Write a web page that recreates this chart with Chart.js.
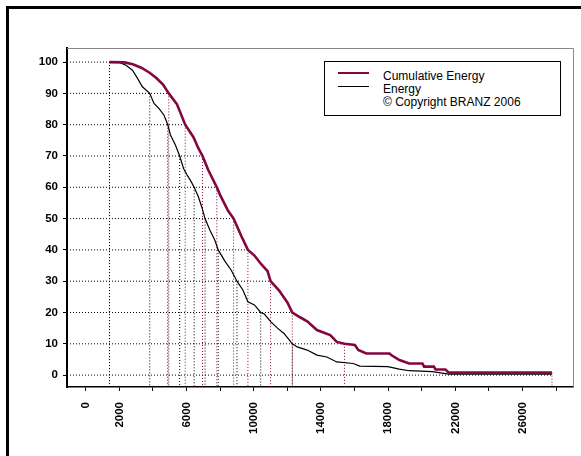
<!DOCTYPE html>
<html lang="en">
<head>
<meta charset="UTF-8">
<title>Energy</title>
<script src="https://cdn.jsdelivr.net/npm/chart.js/dist/chart.umd.min.js"></script>
<style>
  html, body { margin: 0; background: #fff; overflow: hidden; width: 581px; height: 456px; }
  .bar { position: absolute; background: #000; }
  #wrap { position: absolute; left: 0; top: 0; width: 581px; height: 456px; }
  #legend { position: absolute; left: 324px; top: 61px; width: 237px; height: 55px;
            border: 1px solid #000; background: #fff; box-sizing: border-box;
            font: 12px "Liberation Sans", Arial, sans-serif; color: #000; }
  #legend .sw { position: absolute; left: 13px; width: 31px; height: 0; }
  #legend .txt { position: absolute; left: 58px; top: 8px; line-height: 13px; }
</style>
</head>
<body>
<div class="bar" style="left:6px;top:6px;width:575px;height:3px"></div>
<div class="bar" style="left:6px;top:6px;width:3px;height:450px"></div>
<div id="wrap"><canvas id="chart"></canvas></div>
<div id="legend">
  <div class="sw" style="top:10px;border-top:2px solid #85053f"></div>
  <div class="sw" style="top:24px;border-top:1px solid #000"></div>
  <div class="txt">Cumulative Energy<br>Energy<br>&copy; Copyright BRANZ 2006</div>
</div>
<script>
// axis ranges and ticks
const X_MIN = -1118, X_MAX = 29060;
const Y_MIN = -3.8, Y_MAX = 104.5;
const xTicks = [0, 2000, 4000, 6000, 8000, 10000, 12000, 14000, 16000, 18000, 20000, 22000, 24000, 26000, 28000];
const xLabelled = [0, 2000, 6000, 10000, 14000, 18000, 22000, 26000];
const yTicks = [0, 10, 20, 30, 40, 50, 60, 70, 80, 90, 100];

// Energy curve (x = energy, y = %)
const energyX = [1412, 2000, 2390, 2780, 3080, 3370, 3806, 4060, 4350, 4650, 4882, 5040, 5335, 5588, 5820, 6020, 6220, 6453, 6700, 6900, 7100, 7390, 7690, 7882, 8280, 8660, 9000, 9350, 9650, 10040, 10412, 10630, 11020, 11410, 11800, 12000, 12294, 12590, 13180, 13760, 14350, 14940, 15920, 16310, 17980, 18660, 19250, 20630, 21610, 27750];
const energyY = [100, 99.9, 99, 97.4, 94.8, 92.1, 90, 86.8, 85.2, 83.1, 80, 76.7, 73.5, 70, 66, 64, 62.3, 60, 57, 53.8, 50, 46.3, 43, 40, 36.4, 33.5, 30, 27.2, 23.4, 22.4, 20, 19.5, 17, 15, 13.3, 12, 10, 9, 8, 6.4, 5.8, 4.2, 3.7, 2.9, 2.7, 1.9, 1.4, 1.1, 0.3, 0.3];

// Cumulative energy curve
const cumX = [1412, 2300, 2800, 3300, 3800, 4200, 4600, 4940, 5430, 5920, 6410, 6700, 6950, 7290, 7800, 8000, 8470, 8800, 9250, 9650, 10040, 10430, 10820, 11000, 11510, 12000, 12294, 12780, 13180, 13760, 14550, 14940, 15400, 16020, 16220, 16700, 18080, 18180, 18670, 19250, 20040, 20140, 20720, 20820, 21410, 21610, 27750];
const cumY = [100, 99.9, 99.3, 98.2, 96.6, 94.9, 92.8, 90, 86.5, 80, 76, 72.5, 70, 65.5, 60, 57.5, 52.5, 50, 44.5, 40, 38.2, 35.5, 33.2, 30, 27, 23.2, 20, 18.4, 17.2, 14.4, 12.8, 10.6, 10, 9.6, 8, 6.9, 6.9, 6.4, 4.8, 3.7, 3.7, 2.7, 2.7, 1.8, 1.8, 0.8, 0.8];

// drop-line levels and where each curve crosses them
const dropLevels = [100, 90, 80, 70, 60, 50, 40, 30, 20, 10, 0];
const energyCross = [1412, 3806, 4882, 5588, 6453, 7100, 7882, 9000, 10412, 12294, null];
const cumCross = [1412, 4940, 5920, 6950, 7800, 8800, 9650, 11000, 12294, 15400, 27750];
const cumEndY = 0.8;

const RED = '#85053f';

const toPts = (xs, ys) => xs.map((x, i) => ({ x: x, y: ys[i] }));

const datasets = [
  { label: 'Cumulative Energy', data: toPts(cumX, cumY), borderColor: RED, borderWidth: 2.6, order: 0 },
  { label: 'Energy', data: toPts(energyX, energyY), borderColor: '#000', borderWidth: 1.2, order: 0 },
];

const dotted = (pts, color) => ({
  data: pts, borderColor: color, borderWidth: 1, borderDash: [1, 2], order: 2
});

dropLevels.forEach((lev, i) => {
  // horizontal line from the y axis to the outer curve
  datasets.push(dotted([{ x: X_MIN, y: lev }, { x: cumCross[i], y: lev }], '#000'));
  // vertical drops to the x axis
  if (energyCross[i] !== null) {
    datasets.push(dotted([{ x: energyCross[i], y: lev }, { x: energyCross[i], y: Y_MIN }], '#000'));
  }
  const top = lev === 0 ? cumEndY : lev;
  datasets.push(dotted([{ x: cumCross[i], y: top }, { x: cumCross[i], y: Y_MIN }], RED));
});

const plotFrame = {
  id: 'plotFrame',
  beforeDatasetsDraw(chart) {
    const { ctx, chartArea: a } = chart;
    ctx.save();
    ctx.strokeStyle = '#888';
    ctx.lineWidth = 1;
    ctx.beginPath();
    ctx.moveTo(a.left, a.top + 0.5);
    ctx.lineTo(a.right - 0.5, a.top + 0.5);
    ctx.lineTo(a.right - 0.5, a.bottom);
    ctx.stroke();
    ctx.restore();
  }
};

const tickFont = { family: '"Liberation Sans", Arial, sans-serif', size: 11.5, weight: 'bold' };

new Chart(document.getElementById('chart'), {
  type: 'line',
  data: { datasets: datasets },
  options: {
    responsive: true,
    maintainAspectRatio: false,
    animation: false,
    layout: { padding: { top: 48, right: 1, left: 0, bottom: 0 } },
    elements: { point: { radius: 0 }, line: { tension: 0 } },
    plugins: { legend: { display: false }, tooltip: { enabled: false } },
    scales: {
      x: {
        type: 'linear', min: X_MIN, max: X_MAX,
        afterFit: (s) => { s.height = 69; },
        afterBuildTicks: (s) => { s.ticks = xTicks.map(v => ({ value: v })); },
        border: { display: true, color: '#000', width: 1.5 },
        grid: { drawOnChartArea: false, drawTicks: true, tickLength: 4, color: '#000' },
        ticks: {
          autoSkip: false, minRotation: 90, maxRotation: 90, padding: 11,
          color: '#000', font: tickFont,
          callback: (v) => xLabelled.includes(v) ? String(v) : ''
        }
      },
      y: {
        type: 'linear', min: Y_MIN, max: Y_MAX,
        afterFit: (s) => { s.width = 67; },
        afterBuildTicks: (s) => { s.ticks = yTicks.map(v => ({ value: v })); },
        border: { display: true, color: '#000', width: 2 },
        grid: { drawOnChartArea: false, drawTicks: true, tickLength: 4, color: '#000' },
        ticks: { padding: 5, color: '#000', font: tickFont, callback: (v) => String(v) }
      }
    }
  },
  plugins: [plotFrame]
});
</script>
</body>
</html>
